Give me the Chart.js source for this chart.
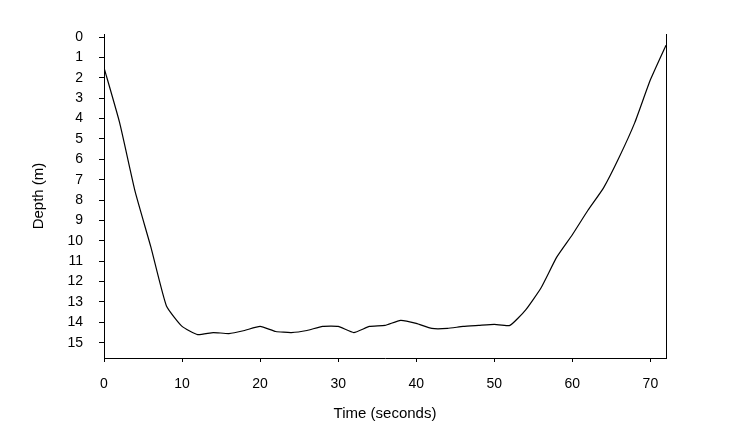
<!DOCTYPE html>
<html>
<head>
<meta charset="utf-8">
<script src="https://cdn.jsdelivr.net/npm/chart.js@4.4.1/dist/chart.umd.min.js"></script>
<style>
  html, body { margin: 0; padding: 0; background: #fff; }
  #wrap { width: 730px; height: 442px; }
</style>
</head>
<body>
<div id="wrap"><canvas id="myChart" width="730" height="442"></canvas></div>
<script>
// Temps (secondes) et profondeur (m)
const times = [0, 2, 4, 6, 8, 10, 12, 14, 16, 18, 20, 22, 24, 26, 28, 30, 32, 34, 36,
               38, 40, 42, 44, 46, 48, 50, 52, 54, 56, 58, 60, 62, 64, 66, 68, 70, 72];
const depths = [1.5, 4.2, 7.6, 10.3, 13.2, 14.2, 14.6, 14.5, 14.55, 14.4, 14.2, 14.45, 14.5,
                14.4, 14.2, 14.2, 14.5, 14.2, 14.15, 13.9, 14.05, 14.3, 14.3, 14.2, 14.15,
                14.1, 14.15, 13.4, 12.3, 10.8, 9.7, 8.5, 7.4, 5.9, 4.2, 2.1, 0.4];

// Graduations des axes
const xTicks = [0, 10, 20, 30, 40, 50, 60, 70];
const yTicks = [0, 1, 2, 3, 4, 5, 6, 7, 8, 9, 10, 11, 12, 13, 14, 15];

const points = times.map((t, i) => ({ x: t, y: depths[i] }));
const tickFont = { family: "'Liberation Sans', Arial, sans-serif", size: 14 };
const titleFont = { family: "'Liberation Sans', Arial, sans-serif", size: 15 };

let ctx = document.getElementById('myChart').getContext('2d');
let myChart = new Chart(ctx, {
    type: 'line',
    data: {
        datasets: [{
            data: points,
            borderColor: '#000',
            borderWidth: 1.2,
            pointRadius: 0,
            tension: 0.15,
            fill: false
        }]
    },
    options: {
        responsive: false,
        animation: false,
        layout: { padding: { top: 34, right: 64, left: 0, bottom: 0 } },
        plugins: { legend: { display: false }, tooltip: { enabled: false } },
        scales: {
            x: {
                type: 'linear',
                min: 0,
                max: 72,
                afterBuildTicks: axis => { axis.ticks = xTicks.map(v => ({ value: v })); },
                afterFit: axis => { axis.height = 84; },
                border: { display: true, color: '#000', width: 1 },
                grid: { drawOnChartArea: false, drawTicks: true, tickLength: 4, color: '#000' },
                ticks: { color: '#000', font: tickFont, padding: 14, maxRotation: 0 },
                title: { display: true, text: 'Time (seconds)', color: '#000', font: titleFont, padding: { top: 19, bottom: 19 } }
            },
            y: {
                type: 'linear',
                reverse: true,
                min: -0.15,
                max: 15.75,
                afterBuildTicks: axis => { axis.ticks = yTicks.map(v => ({ value: v })); },
                afterFit: axis => { axis.width = 104; },
                border: { display: true, color: '#000', width: 1 },
                grid: { drawOnChartArea: false, drawTicks: true, tickLength: 5, color: '#000' },
                ticks: { color: '#000', font: tickFont, padding: 16 },
                title: { display: true, text: 'Depth (m)', color: '#000', font: titleFont, padding: { top: 30, bottom: 0 } }
            },
            yRight: {
                type: 'linear',
                position: 'right',
                reverse: true,
                min: -0.15,
                max: 15.75,
                afterFit: axis => { axis.width = 0; },
                border: { display: true, color: '#000', width: 1 },
                grid: { display: false },
                ticks: { display: false }
            }
        }
    }
});
</script>
</body>
</html>
